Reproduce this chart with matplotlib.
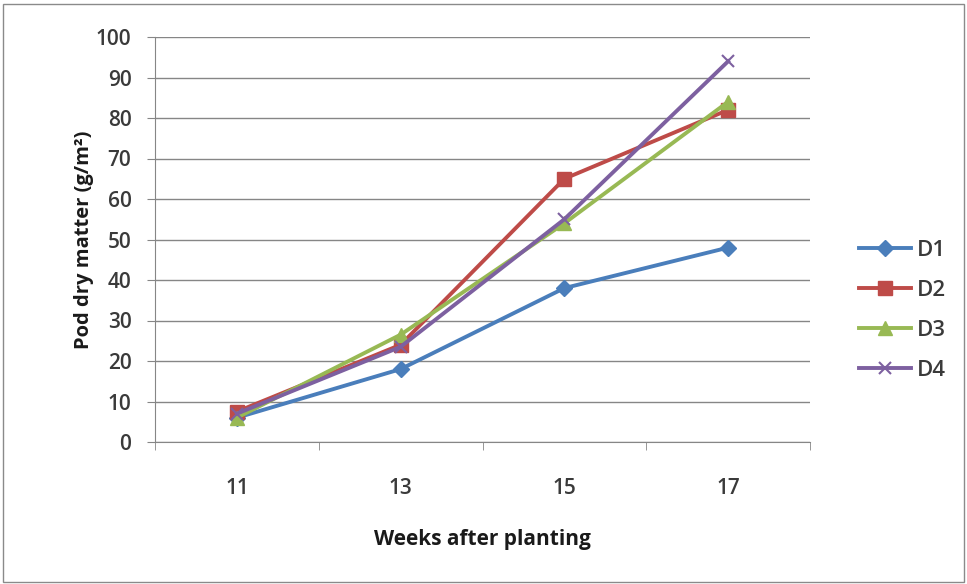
import matplotlib
matplotlib.use("Agg")
import matplotlib.pyplot as plt
from matplotlib.patches import Rectangle

# Data
weeks = ["11", "13", "15", "17"]
d1 = [6, 18, 38, 48]
d2 = [7.5, 24, 65, 82]
d3 = [6, 26.5, 54, 84]
d4 = [7, 23.5, 55, 94]

series_names = ["D1", "D2", "D3", "D4"]
colors = ["#4A7EBB", "#BE4B48", "#98B954", "#7D60A0"]
markers = ["D", "s", "^", "x"]
msizes = [8, 10, 10, 8]

plt.rcParams["font.family"] = ["Open Sans", "DejaVu Sans"]

fig = plt.figure(figsize=(9.67, 5.84), dpi=100)
fig.patches.append(Rectangle((0.003, 0.004), 0.994, 0.99, transform=fig.transFigure,
                             fill=False, edgecolor="#8a8a8a", linewidth=1.0))

ax = fig.add_axes([155 / 967, 1 - 442 / 584, (810 - 155) / 967, (442 - 37) / 584])

x = range(len(weeks))
for vals, name, c, m, ms in zip([d1, d2, d3, d4], series_names, colors, markers, msizes):
    ax.plot(x, vals, color=c, linewidth=2.8, marker=m, markersize=ms,
            markeredgecolor=c, markeredgewidth=1.5 if m == "x" else 1, label=name)

ax.set_xlim(-0.5, 3.5)
ax.set_ylim(0, 100)
ax.set_yticks(range(0, 101, 10))
ax.set_xticks(list(x))
ax.set_xticklabels(weeks)
ax.set_xticks([-0.5, 0.5, 1.5, 2.5, 3.5], minor=True)
ax.tick_params(axis="x", which="major", length=0, pad=26, labelsize=15, colors="#3a3a3a")
ax.tick_params(axis="x", which="minor", length=6, color="#868686")
ax.tick_params(axis="y", length=6, color="#868686", labelsize=15, colors="#3a3a3a", pad=11)
for lbl in ax.get_xticklabels() + ax.get_yticklabels():
    lbl.set_fontweight("semibold")

ax.grid(axis="y", color="#868686", linewidth=1.0)
ax.set_axisbelow(True)
for side in ["top", "right"]:
    ax.spines[side].set_visible(False)
for side in ["left", "bottom"]:
    ax.spines[side].set_color("#868686")

ax.set_xlabel("Weeks after planting", fontsize=15, fontweight="bold", color="#1a1a1a")
ax.xaxis.set_label_coords(0.5, -0.215)
ax.set_ylabel("Pod dry matter (g/m²)", fontsize=14.5, fontweight="bold", color="#1a1a1a")
ax.yaxis.set_label_coords(-0.093, 0.5)

leg = ax.legend(loc="center left", bbox_to_anchor=(1.045, 0.325), frameon=False,
                fontsize=16, labelspacing=0.85, handlelength=2.3, handletextpad=0.3,
                labelcolor="#3a3a3a")
for t in leg.get_texts():
    t.set_fontweight("semibold")

fig.savefig("out.png", dpi=100)
